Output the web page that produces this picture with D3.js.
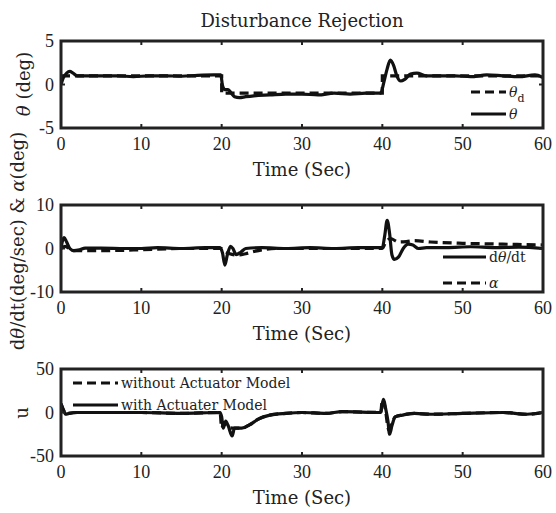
<!DOCTYPE html>
<html>
<head>
<meta charset="utf-8">
<script src="https://cdn.jsdelivr.net/npm/d3@7"></script>
<style>
  body { margin: 0; background: #fff; }
  svg text { font-family: "DejaVu Serif", "Liberation Serif", serif; fill: #222; }
  svg text.tick { font-family: "Liberation Serif", serif; }
</style>
</head>
<body>
<div id="chart"></div>
<script>
'use strict';

// time axis shared by all three panels
const timeTicks = [0, 10, 20, 30, 40, 50, 60];

// panel 1: theta and theta_d (deg)
const thetaTicks = [-5, 0, 5];
const thetaDesired = [[0, 1], [20, 1], [20, -1], [40, -1], [40, 1], [60, 1]];
const theta = [[0, 0], [0.3, 0.8], [0.7, 1.3], [1.1, 1.5], [1.5, 1.3], [2.0, 1.0], [3, 1.0], [5, 1.0], [7, 1.0], [9, 0.9],
  [11, 1.0], [13, 1.0], [15, 0.95], [17, 1.05], [19, 1.1], [19.9, 1.1], [20.1, -0.1], [20.4, -0.6], [20.8, -0.6], [21.2, -1.0],
  [21.6, -1.4], [22.2, -1.5], [23, -1.4], [24, -1.3], [26, -1.2], [28, -1.1], [30, -1.1], [32, -1.2], [34, -1.0], [36, -1.1],
  [38, -1.0], [39.8, -1.0], [40.2, 0.3], [40.6, 1.8], [41.0, 2.8], [41.4, 2.2], [41.8, 1.0], [42.3, 0.4], [42.8, 0.6], [43.5, 1.2],
  [44.3, 1.3], [45.5, 1.0], [47, 1.0], [49, 1.0], [51, 0.9], [53, 1.1], [55, 1.0], [57, 0.9], [59, 1.1], [60, 0.8]];

// panel 2: pitch rate and angle of attack
const rateTicks = [-10, 0, 10];
const pitchRate = [[0, 0], [0.2, 1.8], [0.4, 2.5], [0.7, 1.5], [1.1, 0], [1.6, -0.5], [2.3, -0.3], [3, 0.1], [5, 0.1], [8, 0],
  [10, 0], [12, 0.2], [15, 0], [18, 0.2], [19.8, 0.2], [20.1, -1], [20.4, -3.8], [20.7, -1.5], [21.1, 0.5], [21.4, 0],
  [21.8, -1.4], [22.4, -0.8], [23, 0], [25, 0.2], [28, 0], [31, 0.2], [34, 0], [37, 0.2], [40, 0.2], [40.3, 3],
  [40.6, 6.5], [40.9, 3.5], [41.2, -1.5], [41.5, -2.5], [42, -2], [42.6, 0], [43.2, 1], [43.8, 0.8], [44.5, 0], [45.5, 0.2],
  [48, 0.2], [51, 0.4], [54, 0.2], [57, 0.3], [60, 0]];
const alpha = [[0, 0], [0.5, 0.5], [1.5, -0.5], [5, -0.5], [10, -0.3], [15, 0], [20, 0], [20.3, -0.5], [21, -1.2], [22, -1.5],
  [23, -1.2], [24, -0.7], [25, -0.3], [27, 0], [40, 0], [40.3, 1], [41, 2.3], [42, 1.5], [43, 1.6], [44, 1.8],
  [46, 1.5], [50, 1.2], [55, 1.0], [60, 0.8]];

// panel 3: control input u
const uTicks = [-50, 0, 50];
const uWithout = [[0, 10], [0.3, 3], [0.6, -2], [1, -1], [2, 0], [5, 0], [10, 0], [15, -1], [19.8, 0], [20, -18],
  [20.3, -12], [20.8, -17], [21.5, -18], [22.5, -18], [23.5, -14], [24.5, -8], [26, -3], [28, -1], [30, 0], [33, -1],
  [35, 1], [39.8, 0], [40, 15], [40.3, 8], [40.8, -20], [41.2, -12], [41.6, -5], [42.5, -3], [44, -1], [46, -2],
  [50, -1], [55, 0], [58, -2], [60, 0]];
const uWith = [[0, 10], [0.3, 3], [0.6, -2], [1, -1], [2, 0], [5, 0], [10, 0], [15, -1], [19.8, 0], [20, -5],
  [20.2, -18], [20.5, -10], [20.8, -15], [21.3, -27], [21.6, -18], [22.5, -18], [23.5, -14], [24.5, -8], [26, -3], [28, -1],
  [30, 0], [33, -1], [35, 1], [39.8, 0], [40, 10], [40.15, 15], [40.4, 5], [40.7, -10], [40.9, -25], [41.2, -15],
  [41.6, -5], [42.5, -3], [44, -1], [46, -2], [50, -1], [55, 0], [58, -2], [60, 0]];

const width = 556, height = 513;
const left = 61, right = 543;
const panelH = 87;

const svg = d3.select("#chart").append("svg")
  .attr("width", width)
  .attr("height", height);

const x = d3.scaleLinear().domain([0, 60]).range([left, right]);

svg.append("text")
  .attr("x", 302).attr("y", 27)
  .attr("text-anchor", "middle")
  .style("font-size", "18px")
  .text("Disturbance Rejection");

function panel(top, yTicks, series, idx) {
  const y = d3.scaleLinear().domain([yTicks[0], yTicks[2]]).range([top + panelH, top]);
  const g = svg.append("g");

  svg.append("clipPath").attr("id", "clip" + idx)
    .append("rect").attr("x", left).attr("y", top).attr("width", right - left).attr("height", panelH);

  const line = d3.line()
    .x(d => x(d[0]))
    .y(d => y(d[1]));

  series.forEach(s => {
    line.curve(s.step ? d3.curveLinear : d3.curveMonotoneX);
    g.append("path")
      .datum(s.data)
      .attr("clip-path", `url(#clip${idx})`)
      .attr("d", line)
      .attr("fill", "none")
      .attr("stroke", "#111")
      .attr("stroke-width", 3.2)
      .attr("stroke-dasharray", s.dashed ? "9,5" : null);
  });

  // tick marks on all four sides, pointing inwards
  const tickLen = 4;
  timeTicks.slice(1, -1).forEach(t => {
    g.append("line").attr("x1", x(t)).attr("x2", x(t)).attr("y1", top + panelH).attr("y2", top + panelH - tickLen)
      .attr("stroke", "#222").attr("stroke-width", 2);
    g.append("line").attr("x1", x(t)).attr("x2", x(t)).attr("y1", top).attr("y2", top + tickLen)
      .attr("stroke", "#222").attr("stroke-width", 2);
  });
  g.append("line").attr("x1", left).attr("x2", left + tickLen).attr("y1", y(0)).attr("y2", y(0))
    .attr("stroke", "#222").attr("stroke-width", 2);
  g.append("line").attr("x1", right).attr("x2", right - tickLen).attr("y1", y(0)).attr("y2", y(0))
    .attr("stroke", "#222").attr("stroke-width", 2);

  g.append("rect")
    .attr("x", left).attr("y", top)
    .attr("width", right - left).attr("height", panelH)
    .attr("fill", "none").attr("stroke", "#222").attr("stroke-width", 3);

  timeTicks.forEach(t => {
    g.append("text").attr("class", "tick").attr("x", x(t)).attr("y", top + panelH + 22)
      .attr("text-anchor", "middle").style("font-size", "18px").text(t);
  });
  yTicks.forEach(v => {
    g.append("text").attr("class", "tick").attr("x", left - 7).attr("y", y(v) + 6)
      .attr("text-anchor", "end").style("font-size", "18px").text(v);
  });

  g.append("text").attr("x", 302).attr("y", top + panelH + 48)
    .attr("text-anchor", "middle").style("font-size", "18px").text("Time (Sec)");

  return y;
}

// panel 1
panel(41, thetaTicks, [
  { data: thetaDesired, dashed: true, step: true },
  { data: theta }
], 1);
// panel 2
panel(205, rateTicks, [
  { data: alpha, dashed: true },
  { data: pitchRate }
], 2);
// panel 3
panel(369, uTicks, [
  { data: uWithout, dashed: true },
  { data: uWith }
], 3);

// y-axis labels
const yl1 = svg.append("text").attr("transform", "translate(30,84) rotate(-90)")
  .attr("text-anchor", "middle").style("font-size", "18px");
yl1.append("tspan").style("font-style", "italic").text("θ");
yl1.append("tspan").text(" (deg)");

const yl2 = svg.append("text").attr("transform", "translate(24,241) rotate(-90)")
  .attr("text-anchor", "middle").style("font-size", "18px");
yl2.append("tspan").text("d");
yl2.append("tspan").style("font-style", "italic").text("θ");
yl2.append("tspan").text("/dt(deg/sec) & ");
yl2.append("tspan").style("font-style", "italic").text("α");
yl2.append("tspan").text("(deg)");

svg.append("text").attr("transform", "translate(28,413) rotate(-90)")
  .attr("text-anchor", "middle").style("font-size", "18px").text("u");

// legends
function legendItem(x1, x2, yy, dashed, build) {
  svg.append("line").attr("x1", x1).attr("x2", x2).attr("y1", yy).attr("y2", yy)
    .attr("stroke", "#111").attr("stroke-width", 3)
    .attr("stroke-dasharray", dashed ? "9,5" : null);
  const t = svg.append("text").attr("x", x2 + 3).attr("y", yy + 5).style("font-size", "14px");
  build(t);
}

legendItem(471, 506, 92, true, t => {
  t.append("tspan").style("font-style", "italic").text("θ");
  t.append("tspan").attr("dy", 5).style("font-size", "11px").text("d");
});
legendItem(471, 506, 114, false, t => {
  t.append("tspan").style("font-style", "italic").text("θ");
});

legendItem(443, 486, 257, false, t => {
  t.append("tspan").text("d");
  t.append("tspan").style("font-style", "italic").text("θ");
  t.append("tspan").text("/dt");
});
legendItem(443, 486, 283, true, t => {
  t.append("tspan").style("font-style", "italic").text("α");
});

legendItem(73, 118, 383, true, t => t.text("without Actuator Model"));
legendItem(73, 118, 405, false, t => t.text("with Actuater Model"));
</script>
</body>
</html>
